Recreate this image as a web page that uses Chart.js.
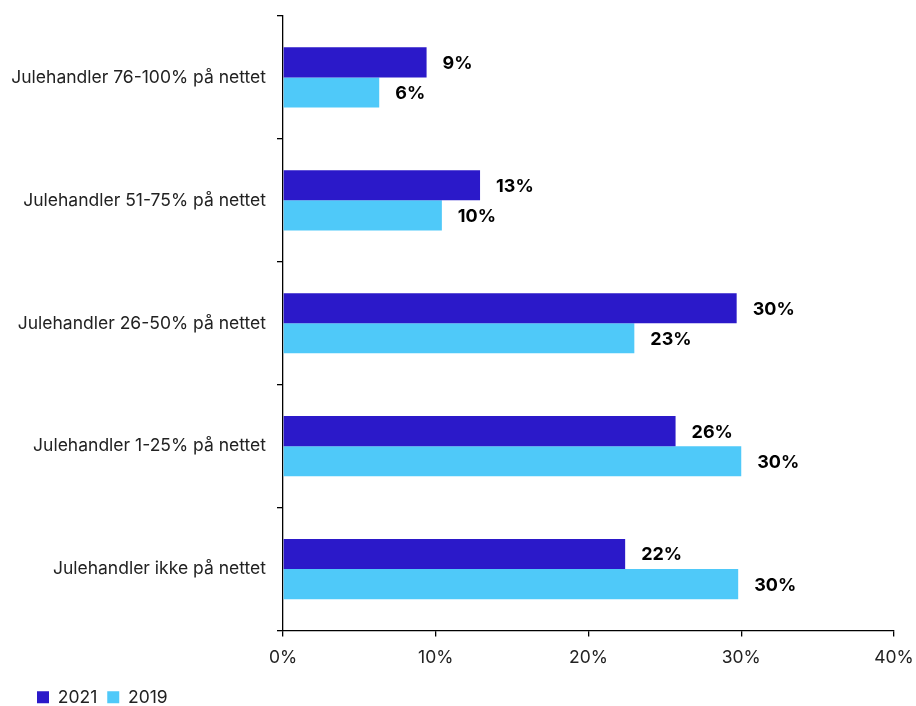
<!DOCTYPE html>
<html>
<head>
<meta charset="utf-8">
<script src="https://cdn.jsdelivr.net/npm/chart.js@4"></script>
<style>
  html, body { margin: 0; padding: 0; background: #fff; }
  #wrap { width: 916px; height: 706px; }
</style>
</head>
<body>
<div id="wrap"><canvas id="chart"></canvas></div>
<script>
// data
const categories = [
  'Julehandler 76-100% på nettet',
  'Julehandler 51-75% på nettet',
  'Julehandler 26-50% på nettet',
  'Julehandler 1-25% på nettet',
  'Julehandler ikke på nettet'
];
const values2021 = [9.4, 12.9, 29.7, 25.7, 22.4];
const values2019 = [6.3, 10.4, 23.0, 30.0, 29.8];
const labels2021 = ['9%', '13%', '30%', '26%', '22%'];
const labels2019 = ['6%', '10%', '23%', '30%', '30%'];
const xTicks = [0, 10, 20, 30, 40];

const FONT = 'Inter, "Liberation Sans", sans-serif';

// simple value labels at the end of each bar
const barLabels = {
  id: 'barLabels',
  afterDatasetsDraw(chart) {
    const ctx = chart.ctx;
    const texts = [labels2021, labels2019];
    ctx.save();
    ctx.font = 'bold 18px ' + FONT;
    ctx.fillStyle = '#000';
    ctx.textAlign = 'left';
    ctx.textBaseline = 'middle';
    chart.data.datasets.forEach((ds, i) => {
      chart.getDatasetMeta(i).data.forEach((bar, j) => {
        ctx.fillText(texts[i][j], bar.x + 16, bar.y + 1);
      });
    });
    ctx.restore();
  }
};

// push the legend in a bit from the left edge
const legendShift = {
  id: 'legendShift',
  afterLayout(chart) {
    chart.legend.left += 27;
    chart.legend.right += 27;
  }
};

new Chart(document.getElementById('chart'), {
  type: 'bar',
  data: {
    labels: categories,
    datasets: [
      { label: '2021', data: values2021, backgroundColor: '#2b19c9', categoryPercentage: 0.49, barPercentage: 1 },
      { label: '2019', data: values2019, backgroundColor: '#4fc9f9', categoryPercentage: 0.49, barPercentage: 1 }
    ]
  },
  options: {
    indexAxis: 'y',
    responsive: true,
    maintainAspectRatio: false,
    animation: false,
    layout: { padding: { top: 16, left: 0, right: 22, bottom: -10 } },
    scales: {
      x: {
        min: 0, max: 40,
        afterBuildTicks: axis => { axis.ticks = xTicks.map(v => ({ value: v })); },
        border: { color: '#000', width: 1.3 },
        grid: { drawOnChartArea: false, drawTicks: true, tickLength: 6, color: '#000', lineWidth: 1.3 },
        ticks: { color: '#222', font: { family: FONT, size: 17.5 }, padding: 11, callback: v => v + '%' },
        afterFit: axis => { axis.height = 48; axis.paddingLeft = 0; axis.paddingRight = 0; }
      },
      y: {
        border: { color: '#000', width: 1.3 },
        grid: { drawOnChartArea: false, drawTicks: true, tickLength: 6, color: '#000', lineWidth: 1.3 },
        ticks: { color: '#222', font: { family: FONT, size: 17.5 }, padding: 11 },
        afterFit: axis => { axis.width = 283; axis.paddingTop = 0; axis.paddingBottom = 0; }
      }
    },
    plugins: {
      legend: {
        position: 'bottom',
        align: 'start',
        labels: {
          boxWidth: 12, boxHeight: 12, padding: 10,
          color: '#222',
          font: { family: FONT, size: 17.5 }
        }
      },
      tooltip: { enabled: false }
    }
  },
  plugins: [barLabels, legendShift]
});
</script>
</body>
</html>
